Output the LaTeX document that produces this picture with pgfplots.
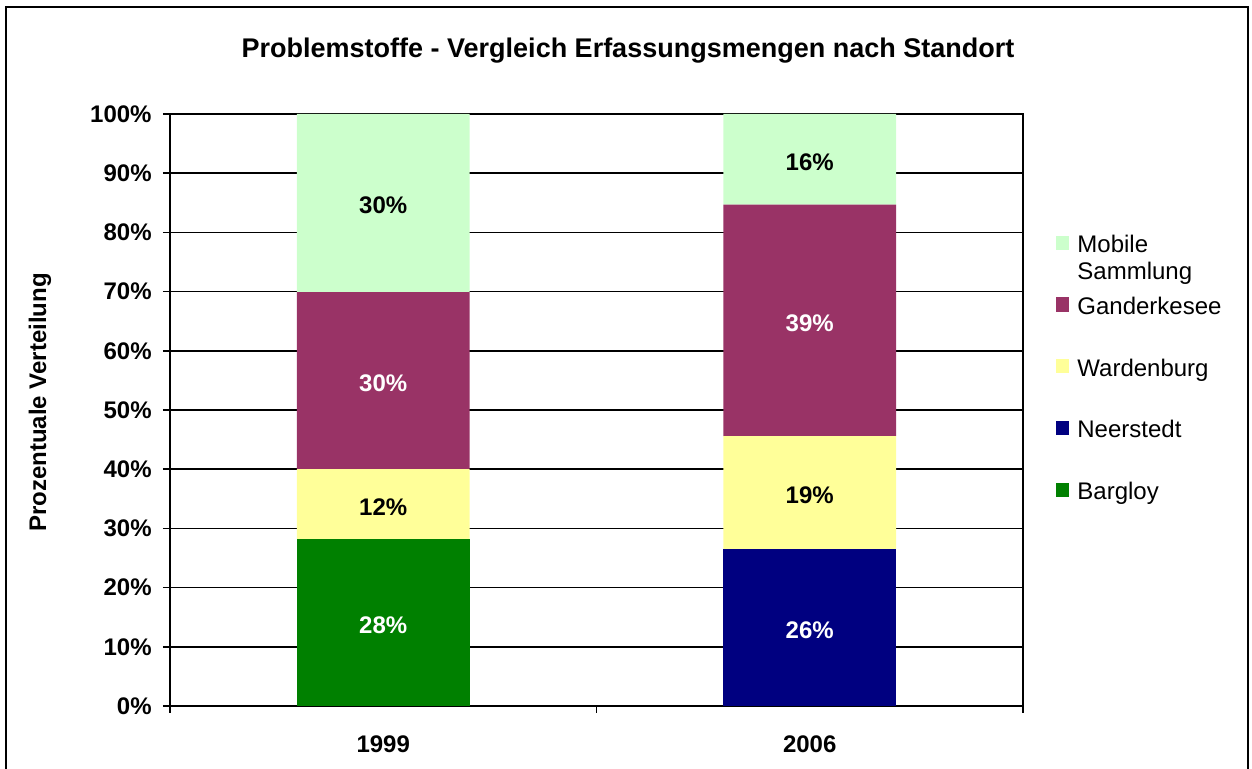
\documentclass[border=0pt]{standalone}
\usepackage{pgfplots}
\pgfplotsset{compat=1.18}
\usepackage{fontspec}
\setmainfont{Liberation Sans}
\definecolor{cMobile}{HTML}{CCFFCC}
\definecolor{cGander}{HTML}{993366}
\definecolor{cWarden}{HTML}{FFFF99}
\definecolor{cNeer}{HTML}{000080}
\definecolor{cBarg}{HTML}{008000}
\newcommand{\lbl}{\fontsize{12}{13.5}\selectfont}
\pgfplotstableread{
x y
0 28.2
1 0
}\tBarg
\pgfplotstableread{
x y
0 0
1 26.5
}\tNeer
\pgfplotstableread{
x y
0 11.8
1 19.1
}\tWarden
\pgfplotstableread{
x y
0 29.9
1 39.1
}\tGander
\pgfplotstableread{
x y
0 30.1
1 15.3
}\tMobile
\begin{document}
\begin{tikzpicture}
\useasboundingbox (-85pt,-31.5pt) rectangle (541pt,353pt);
\draw[line width=1pt] (-82pt,-40pt) rectangle (539pt,349.5pt);
\begin{axis}[
  at={(0pt,0pt)}, anchor=south west,
  scale only axis, width=426.5pt, height=296pt,
  ybar stacked, bar width=0.405,
  xmin=-0.5, xmax=1.5, ymin=0, ymax=100,
  xtick={-0.5,0.5,1.5}, x tick label as interval, xticklabels={1999,2006},
  ytick={0,10,...,100},
  yticklabels={0\%,10\%,20\%,30\%,40\%,50\%,60\%,70\%,80\%,90\%,100\%},
  tick pos=left, tick align=outside,
  major tick length=3.5pt,
  tick style={black, line width=0.8pt},
  ymajorgrids, major grid style={black, line width=0.8pt},
  axis line style={line width=1.2pt},
  tick label style={font=\lbl\bfseries},
  yticklabel style={anchor=east, inner sep=0pt, xshift=-5.5pt},
  xticklabel style={anchor=north, inner sep=0pt, yshift=-11pt},
  ylabel={Prozentuale Verteilung},
  ylabel style={font=\lbl\bfseries, at={(axis description cs:-0.1524,0.5127)}, anchor=center},
  legend style={draw=none, fill=none, at={(axis description cs:1.0387,0.797)}, anchor=north west,
    inner sep=0pt, row sep=19.4pt, column sep=4pt, font=\lbl,
    nodes={inner sep=0pt, text height=9pt, text depth=2.5pt, anchor=base west}},
  legend cell align=left, reverse legend,
  legend image code/.code={\fill[#1] (0pt,1.35pt) rectangle (6.5pt,8.5pt);},
]
\addplot[draw=none, fill=cBarg] table {\tBarg};
\addlegendentry{Bargloy}
\addplot[draw=none, fill=cNeer] table {\tNeer};
\addlegendentry{Neerstedt}
\addplot[draw=none, fill=cWarden] table {\tWarden};
\addlegendentry{Wardenburg}
\addplot[draw=none, fill=cGander] table {\tGander};
\addlegendentry{Ganderkesee}
\addplot[draw=none, fill=cMobile] table {\tMobile};
\addlegendentry{\parbox[t]{3cm}{Mobile\\Sammlung}}
\end{axis}
\begin{axis}[
  at={(0pt,0pt)}, anchor=south west,
  scale only axis, width=426.5pt, height=296pt,
  xmin=-0.5, xmax=1.5, ymin=0, ymax=100, hide axis, clip=false]
\addplot[draw=none, mark=none, nodes near coords={\pgfplotspointmeta\%}, point meta=explicit symbolic,
  every node near coord/.style={anchor=center, font=\lbl\bfseries, text=white, inner sep=0pt, yshift=-1.3pt}]
  table[meta=label] {
x y label
0 14.1 28
0 54.95 30
1 13.25 26
1 65.15 39
};
\addplot[draw=none, mark=none, nodes near coords={\pgfplotspointmeta\%}, point meta=explicit symbolic,
  every node near coord/.style={anchor=center, font=\lbl\bfseries, text=black, inner sep=0pt, yshift=-1.3pt}]
  table[meta=label] {
x y label
0 34.1 12
0 84.95 30
1 36.05 19
1 92.35 16
};
\end{axis}
\node[font=\fontsize{13.5}{15}\selectfont\bfseries, anchor=base] at (229pt,324.3pt)
  {Problemstoffe - Vergleich Erfassungsmengen nach Standort};
\end{tikzpicture}
\end{document}
